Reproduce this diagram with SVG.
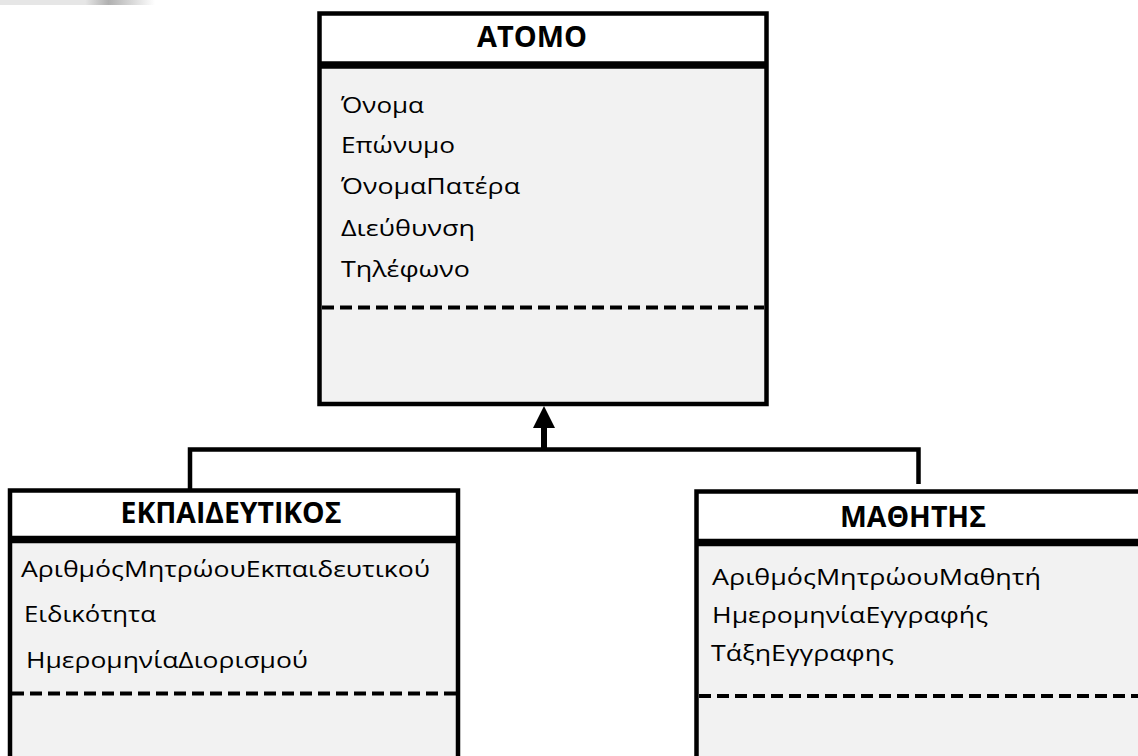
<svg xmlns="http://www.w3.org/2000/svg" width="1138" height="756" viewBox="0 0 1138 756">
<defs>
<style>
.title{font-family:"Open Sans","Liberation Sans",sans-serif;font-weight:bold;font-size:28px;text-anchor:middle;fill:#000}
.attr{font-family:"Open Sans","Liberation Sans",sans-serif;font-size:21px;fill:#000}
.hdr{fill:#fff}
.body{fill:#f2f2f2}
.border{fill:none;stroke:#000;stroke-width:4.5}
.sep{stroke:#000;stroke-width:7.5}
.dash{stroke:#000;stroke-width:4;stroke-dasharray:12 6}
.conn{fill:none;stroke:#000;stroke-width:4.5}
</style>
<marker id="arrow" markerUnits="userSpaceOnUse" markerWidth="22" markerHeight="22" viewBox="0 0 22 22" refX="0" refY="11" orient="auto">
<path d="M0,0 L22,11 L0,22 z" fill="#000"/>
</marker>
<linearGradient id="art" x1="0" x2="1" y1="0" y2="0">
<stop offset="0" stop-color="#e6e6e6"/>
<stop offset="0.55" stop-color="#e6e6e6"/>
<stop offset="0.7" stop-color="#b0b0b0"/>
<stop offset="1" stop-color="#ffffff"/>
</linearGradient>
</defs>
<rect x="0" y="0" width="1138" height="756" fill="#fff"/>
<rect x="0" y="0" width="155" height="5" fill="url(#art)"/>

<g id="connectors">
<path class="conn" d="M190,490 V449.5 H918.5 V484"/>
<path d="M544,449.5 V428" stroke="#000" stroke-width="6" fill="none" marker-end="url(#arrow)"/>
</g>

<g id="atomo">
<rect class="hdr" x="319.5" y="13.5" width="447" height="51.5"/>
<rect class="body" x="319.5" y="65" width="447" height="339"/>
<line class="sep" x1="319.5" y1="65" x2="766.5" y2="65"/>
<line class="dash" x1="322" y1="307.5" x2="764" y2="307.5"/>
<rect class="border" x="319.5" y="13.5" width="447" height="390.5"/>
<text class="title" x="532" y="47" textLength="110" lengthAdjust="spacingAndGlyphs">ΑΤΟΜΟ</text>
<text class="attr" x="341" y="113" textLength="83" lengthAdjust="spacingAndGlyphs">Όνομα</text>
<text class="attr" x="341" y="153" textLength="114" lengthAdjust="spacingAndGlyphs">Επώνυμο</text>
<text class="attr" x="341" y="194" textLength="179" lengthAdjust="spacingAndGlyphs">ΌνομαΠατέρα</text>
<text class="attr" x="341" y="236" textLength="134" lengthAdjust="spacingAndGlyphs">Διεύθυνση</text>
<text class="attr" x="341" y="277" textLength="129" lengthAdjust="spacingAndGlyphs">Τηλέφωνο</text>
</g>

<g id="ekpaideutikos">
<rect class="hdr" x="10" y="490.5" width="448" height="49"/>
<rect class="body" x="10" y="539.5" width="448" height="230"/>
<line class="sep" x1="10" y1="539.5" x2="458" y2="539.5"/>
<line class="dash" x1="12" y1="693.5" x2="456" y2="693.5"/>
<rect class="border" x="10" y="490.5" width="448" height="280"/>
<text class="title" x="231" y="523" textLength="221" lengthAdjust="spacingAndGlyphs">ΕΚΠΑΙΔΕΥΤΙΚΟΣ</text>
<text class="attr" x="21" y="577" textLength="409" lengthAdjust="spacingAndGlyphs">ΑριθμόςΜητρώουΕκπαιδευτικού</text>
<text class="attr" x="24" y="622" textLength="132" lengthAdjust="spacingAndGlyphs">Ειδικότητα</text>
<text class="attr" x="26" y="668" textLength="282" lengthAdjust="spacingAndGlyphs">ΗμερομηνίαΔιορισμού</text>
</g>

<g id="mathitis">
<rect class="hdr" x="696.5" y="491.5" width="460" height="51"/>
<rect class="body" x="696.5" y="542.5" width="460" height="230"/>
<line class="sep" x1="696.5" y1="542.5" x2="1156" y2="542.5"/>
<line class="dash" x1="699" y1="696" x2="1156" y2="696"/>
<rect class="border" x="696.5" y="491.5" width="460" height="280"/>
<text class="title" x="913" y="527" textLength="146" lengthAdjust="spacingAndGlyphs">ΜΑΘΗΤΗΣ</text>
<text class="attr" x="712" y="585" textLength="329" lengthAdjust="spacingAndGlyphs">ΑριθμόςΜητρώουΜαθητή</text>
<text class="attr" x="712" y="623" textLength="276" lengthAdjust="spacingAndGlyphs">ΗμερομηνίαΕγγραφής</text>
<text class="attr" x="711" y="661" textLength="183" lengthAdjust="spacingAndGlyphs">ΤάξηΕγγραφης</text>
</g>
</svg>
